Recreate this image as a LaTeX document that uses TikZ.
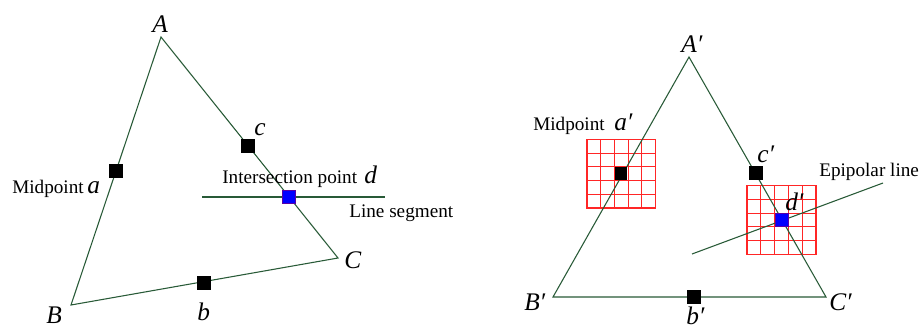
\documentclass[tikz,border=0pt]{standalone}
\usepackage{fontspec}
\setmainfont{Liberation Serif}
\begin{document}
\begin{tikzpicture}[x=0.75pt,y=-0.75pt,
  edge/.style={draw=linegreen,line width=0.8pt},
  sq/.style={rectangle,fill=black,minimum size=10.5pt,inner sep=0pt},
  bsq/.style={rectangle,fill=blue,draw=violet!70!blue,line width=0.4pt,minimum size=10pt,inner sep=0pt},
  lbl/.style={font=\fontsize{14.4}{16}\selectfont,inner sep=0pt,anchor=base west},
  big/.style={font=\fontsize{19}{22}\selectfont\itshape,inner sep=0pt,anchor=base west},
  gridline/.style={draw=red!85!white,line width=0.8pt}]
\definecolor{linegreen}{RGB}{40,90,55}
\useasboundingbox (0,0) rectangle (922,329);
\fill[white] (0,0) rectangle (922,329);
% ---------- left triangle ----------
\coordinate (A) at (161,37);
\coordinate (B) at (71,305);
\coordinate (C) at (338,258);
\coordinate (L1) at (202,197);
\coordinate (L2) at (385,197);
\draw[edge] (A) -- (B) -- (C) -- cycle;
\draw[edge] (L1) -- (L2);
\node[sq] (a) at (116,171) {};
\node[sq] (c) at (248,146) {};
\node[sq] (b) at (204,283) {};
\node[bsq] (d) at (289,197) {};
\node[big] (lA) at (152,32) {A};
\node[big] (lB) at (46,323) {B};
\node[big] (lC) at (344,268) {C};
\node[big] (lb) at (197,320) {b};
\node[big] (lc) at (254,135) {c};
\node[lbl] (mida) at (12,193) {Midpoint};
\node[big] (la) at (87,193) {a};
\node[lbl] (inter) at (222,183) {Intersection point};
\node[big] (ld) at (364,183) {d};
\node[lbl] (seg) at (349,217) {Line segment};
% ---------- right triangle ----------
\coordinate (A2) at (689,57);
\coordinate (B2) at (553,297);
\coordinate (C2) at (826,297);
\coordinate (E1) at (692,254);
\coordinate (E2) at (883,183);
\foreach \i in {1,...,4}{
  \draw[gridline] ({587+13.7*\i},139.3) -- ({587+13.7*\i},208);
  \draw[gridline] (587,{139.3+13.74*\i}) -- (655.5,{139.3+13.74*\i});
  \draw[gridline] ({747+13.8*\i},185.7) -- ({747+13.8*\i},254.3);
  \draw[gridline] (747,{185.7+13.72*\i}) -- (816,{185.7+13.72*\i});
}
\draw[gridline] (587,139.3) rectangle (655.5,208);
\draw[gridline] (747,185.7) rectangle (816,254.3);
\draw[edge] (A2) -- (B2) -- (C2) -- cycle;
\draw[edge] (E1) -- (E2);
\node[sq,minimum size=9.5pt] (a2) at (621,173.6) {};
\node[sq] (c2) at (756,173.3) {};
\node[sq] (b2) at (694,297) {};
\node[bsq] (d2) at (781.5,220) {};
\node[big] (lA2) at (681,52) {A′};
\node[big] (lB2) at (524,310) {B′};
\node[big] (lC2) at (829,310) {C′};
\node[big] (lb2) at (686,324) {b′};
\node[big] (lc2) at (757,162) {c′};
\node[big] (ld2) at (785,210) {d′};
\node[lbl] (mida2) at (533,130) {Midpoint};
\node[big] (la2) at (614,130) {a′};
\node[lbl] (epi) at (819,176) {Epipolar line};
\end{tikzpicture}
\end{document}
